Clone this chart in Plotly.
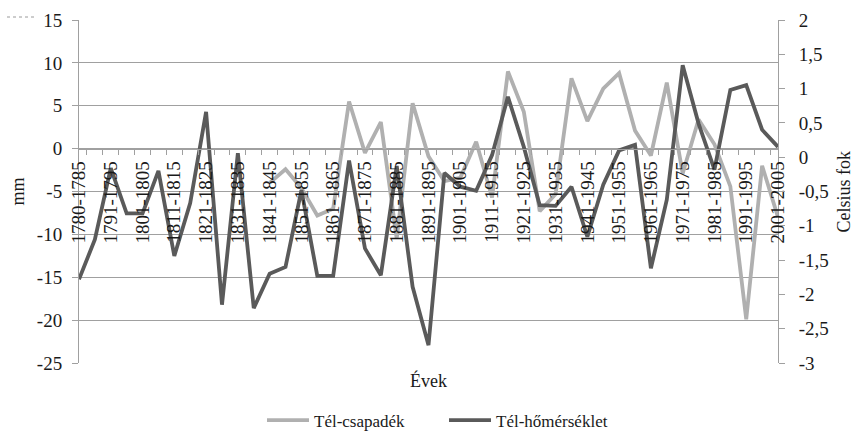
import plotly.graph_objects as go

periods = ["1780-1785"] + [f"{s}-{s+4}" for s in range(1786, 2002, 5)]

precip_mm = [None, None, None, None, None, None, None, None, None, None, None, None,
             -4.0, -2.4, -4.6, -7.8, -7.0, 5.5, -0.5, 3.1, -10.5, 5.3, -0.9, -3.8,
             -3.4, 0.8, -5.7, 9.0, 4.3, -7.3, -5.3, 8.2, 3.2, 7.0, 8.8, 2.1,
             -0.8, 7.7, -2.9, 3.4, 0.5, -4.4, -19.9, -2.0, -8.0]

temp_c = [-1.78, -1.20, -0.16, -0.82, -0.82, -0.20, -1.44, -0.67, 0.66, -2.15,
          0.06, -2.20, -1.70, -1.60, -0.48, -1.73, -1.73, -0.05, -1.33, -1.72,
          -0.13, -1.89, -2.74, -0.23, -0.43, -0.49, 0.03, 0.88, 0.15, -0.70,
          -0.71, -0.43, -1.16, -0.40, 0.10, 0.18, -1.62, -0.62, 1.34, 0.49,
          -0.18, 0.98, 1.05, 0.40, 0.15]

left_ticks = [15, 10, 5, 0, -5, -10, -15, -20, -25]
left_labels = ["15", "10", "5", "0", "-5", "-10", "-15", "-20", "-25"]
right_ticks = [2, 1.5, 1, 0.5, 0, -0.5, -1, -1.5, -2, -2.5, -3]
right_labels = ["2", "1,5", "1", "0,5", "0", "-0,5", "-1", "-1,5", "-2", "-2,5", "-3"]

x_labels = [p if i % 2 == 0 else "" for i, p in enumerate(periods)]

FONT = "Liberation Serif, Times New Roman, DejaVu Serif, serif"
FS = 19
GRID = "#a0a0a0"
TXT = "#1a1a1a"

fig = go.Figure()
fig.add_trace(go.Scatter(x=periods, y=precip_mm, name="Tél-csapadék", mode="lines",
                         line=dict(color="#b0b0b0", width=3.8), yaxis="y",
                         connectgaps=False))
fig.add_trace(go.Scatter(x=periods, y=temp_c, name="Tél-hőmérséklet", mode="lines",
                         line=dict(color="#5a5a5a", width=3.8), yaxis="y2"))

fig.update_layout(
    width=856, height=432,
    margin=dict(l=79, r=78, t=20, b=69, autoexpand=False),
    paper_bgcolor="white", plot_bgcolor="white",
    font=dict(family=FONT, size=FS, color=TXT),
    showlegend=True,
    legend=dict(orientation="h", x=(262 - 79) / 699, xanchor="left", y=-0.168,
                yanchor="middle", font=dict(family=FONT, size=17, color=TXT),
                itemwidth=42, entrywidth=125, entrywidthmode="pixels"),
    xaxis=dict(type="category", tickmode="array", tickvals=periods, ticktext=x_labels,
               tickangle=-90, tickson="boundaries", ticks="outside", ticklen=5,
               tickcolor=GRID, showline=True, linecolor=GRID, linewidth=1,
               showgrid=False, anchor="free", position=0.625, automargin=False,
               ticklabelstandoff=4,
               tickfont=dict(family=FONT, size=FS, color=TXT)),
    yaxis=dict(range=[-25, 15], tickmode="array", tickvals=left_ticks, ticktext=left_labels,
               showgrid=True, gridcolor=GRID, gridwidth=1, zeroline=False,
               showline=True, linecolor=GRID, linewidth=1, ticks="outside", ticklen=6,
               tickcolor=GRID, ticklabelstandoff=6, automargin=False,
               tickfont=dict(family=FONT, size=FS, color=TXT)),
    yaxis2=dict(range=[-3, 2], tickmode="array", tickvals=right_ticks, ticktext=right_labels,
                overlaying="y", side="right", showgrid=False, zeroline=False,
                showline=True, linecolor=GRID, linewidth=1, ticks="outside", ticklen=6,
                tickcolor=GRID, ticklabelstandoff=10, automargin=False,
                tickfont=dict(family=FONT, size=FS, color=TXT)),
)

fig.add_annotation(text="Évek", xref="paper", yref="paper", x=0.5, y=-0.05,
                   xanchor="center", yanchor="middle", showarrow=False,
                   font=dict(family=FONT, size=18, color=TXT))
fig.add_annotation(text="mm", xref="paper", yref="paper", x=(17 - 79) / 699, y=0.5,
                   xanchor="center", yanchor="middle", showarrow=False, textangle=-90,
                   font=dict(family=FONT, size=18, color=TXT))
fig.add_annotation(text="Celsius fok", xref="paper", yref="paper", x=(843 - 79) / 699,
                   y=0.5, xanchor="center", yanchor="middle", showarrow=False,
                   textangle=-90, font=dict(family=FONT, size=18, color=TXT))
fig.add_shape(type="line", xref="paper", yref="paper", x0=(7 - 79) / 699, x1=(37 - 79) / 699,
              y0=(363 - 17) / 343, y1=(363 - 17) / 343,
              line=dict(color="#9a9a9a", width=1, dash="dot"))

fig.write_html("out.html", config={"displayModeBar": False},
               post_script="document.body.style.margin='0';")
